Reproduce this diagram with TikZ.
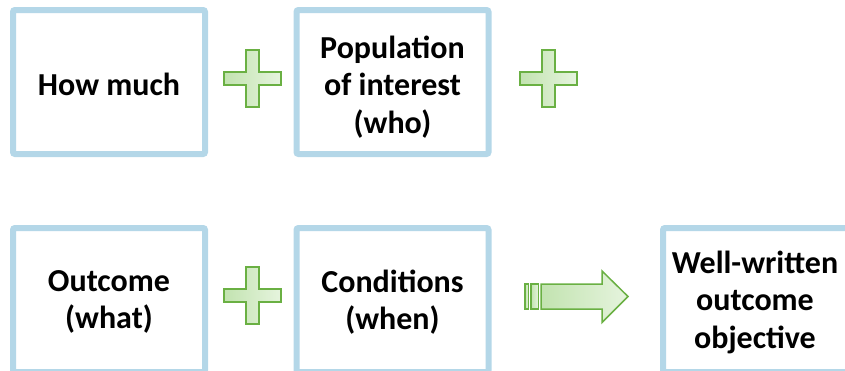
\documentclass[tikz,border=0pt]{standalone}
\usepackage{fontspec}
\setmainfont{Carlito}
\definecolor{boxblue}{HTML}{B4D7E8}
\definecolor{plusedge}{HTML}{6AB043}
\definecolor{plusleft}{HTML}{C2E3B0}
\definecolor{plusright}{HTML}{E6F4DE}
\tikzset{
  box/.style={draw=boxblue, line width=6pt, rounded corners=2pt, fill=white,
    minimum width=192pt, minimum height=144pt, inner sep=0pt},
  boxtext/.style={align=center, inner sep=0pt,
    font=\fontsize{32}{37.5}\selectfont\bfseries, text=black},
  greenshape/.style={draw=plusedge, line width=1.5pt, left color=plusleft, right color=plusright},
  plussign/.pic={\path[greenshape] (-6.5,-28.5) -- (6.5,-28.5) -- (6.5,-6.5) -- (28.5,-6.5) -- (28.5,6.5) -- (6.5,6.5) -- (6.5,28.5) -- (-6.5,28.5) -- (-6.5,6.5) -- (-28.5,6.5) -- (-28.5,-6.5) -- (-6.5,-6.5) -- cycle;}
}
\begin{document}
\begin{tikzpicture}[x=1pt,y=-1pt]
\useasboundingbox (0,0) rectangle (845,370);
\clip (0,0) rectangle (845,370);
\node[box] (howmuch) at (109,82) {};
\node[box] (population) at (392.5,82) {};
\node[box] (outcome) at (109,300) {};
\node[box] (conditions) at (392.5,300) {};
\node[box] (result) at (759,300) {};
\node[boxtext] (howmuchtext) at (109,84) {How much};
\node[boxtext] (populationtext) at (392.5,87) {Population\\of interest\\(who)};
\node[boxtext] (outcometext) at (109,302) {Outcome\\(what)};
\node[boxtext] (conditionstext) at (392.5,302) {Conditions\\(when)};
\node[boxtext] (resulttext) at (755,302) {Well-written\\outcome\\objective};
\pic (plusA) at (252.5,78.5) {plussign};
\pic (plusB) at (548.5,78.5) {plussign};
\pic (plusC) at (252.5,295.5) {plussign};
% arrow
\path[greenshape] (525,284) rectangle (528.5,309);
\path[greenshape] (531,284) rectangle (538.5,309);
\path[greenshape] (541,284) -- (602,284) -- (602,271) -- (628,296.5) -- (602,322.5) -- (602,309) -- (541,309) -- cycle;
\end{tikzpicture}
\end{document}
